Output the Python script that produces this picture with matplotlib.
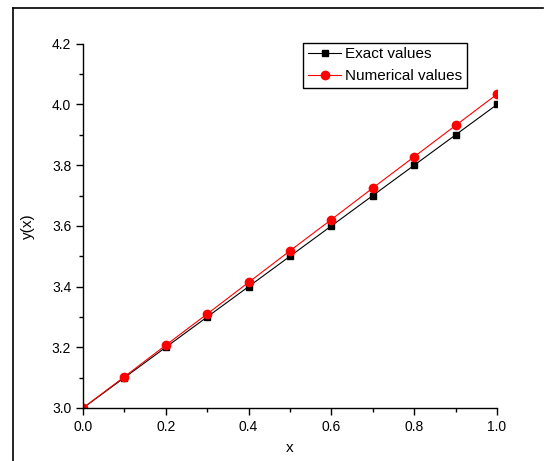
"""Exact vs numerical solution y(x)."""

import matplotlib
matplotlib.use("Agg")
import matplotlib.pyplot as plt
from matplotlib.lines import Line2D
from matplotlib.ticker import MultipleLocator, FormatStrFormatter

plt.rcParams['font.family'] = ['Liberation Sans', 'DejaVu Sans']

x = [0.0, 0.1, 0.2, 0.3, 0.4, 0.5, 0.6, 0.7, 0.8, 0.9, 1.0]
exact = [3.0, 3.1, 3.2, 3.3, 3.4, 3.5, 3.6, 3.7, 3.8, 3.9, 4.0]
numerical = [3.0, 3.103, 3.207, 3.31, 3.414, 3.518, 3.621, 3.725, 3.828, 3.931, 4.034]

fig = plt.figure(figsize=(5.45, 4.61), dpi=100)
ax = fig.add_axes([0.1523, 0.115, 0.7597, 0.79])

# outer frame (left and top sides only visible)
fig.add_artist(Line2D([13 / 545, 13 / 545], [0, 1 - 8 / 461], color='black', lw=1.2))
fig.add_artist(Line2D([13 / 545, 543 / 545], [1 - 8 / 461, 1 - 8 / 461], color='black', lw=1.2))

ax.plot(x, exact, color='black', lw=0.8, marker='s', markersize=5, label='Exact values')
ax.plot(x, numerical, color='red', lw=0.8, marker='o', markersize=6, label='Numerical values')

ax.set_xlim(0, 1.0)
ax.set_ylim(3.0, 4.2)
ax.xaxis.set_major_locator(MultipleLocator(0.2))
ax.xaxis.set_minor_locator(MultipleLocator(0.1))
ax.yaxis.set_major_locator(MultipleLocator(0.2))
ax.yaxis.set_minor_locator(MultipleLocator(0.1))
ax.tick_params(which='major', direction='out', length=5, width=1, labelsize=10)
ax.tick_params(which='minor', direction='out', length=3, width=1)
ax.xaxis.set_major_formatter(FormatStrFormatter('%.1f'))
ax.yaxis.set_major_formatter(FormatStrFormatter('%.1f'))

for side in ['top', 'right']:
    ax.spines[side].set_visible(False)
for side in ['left', 'bottom']:
    ax.spines[side].set_linewidth(1)

ax.set_xlabel('x', fontsize=11, labelpad=5)
ax.set_ylabel('y(x)', fontsize=11, labelpad=12)

leg = ax.legend(loc='upper left', bbox_to_anchor=(0.532, 1.003), fontsize=11,
                frameon=True, fancybox=False, framealpha=1, edgecolor='black',
                handlelength=2.2, handletextpad=0.25, borderpad=0.3, labelspacing=0.5,
                borderaxespad=0.0)
leg.get_frame().set_linewidth(1)

fig.savefig('out.png', dpi=100)
